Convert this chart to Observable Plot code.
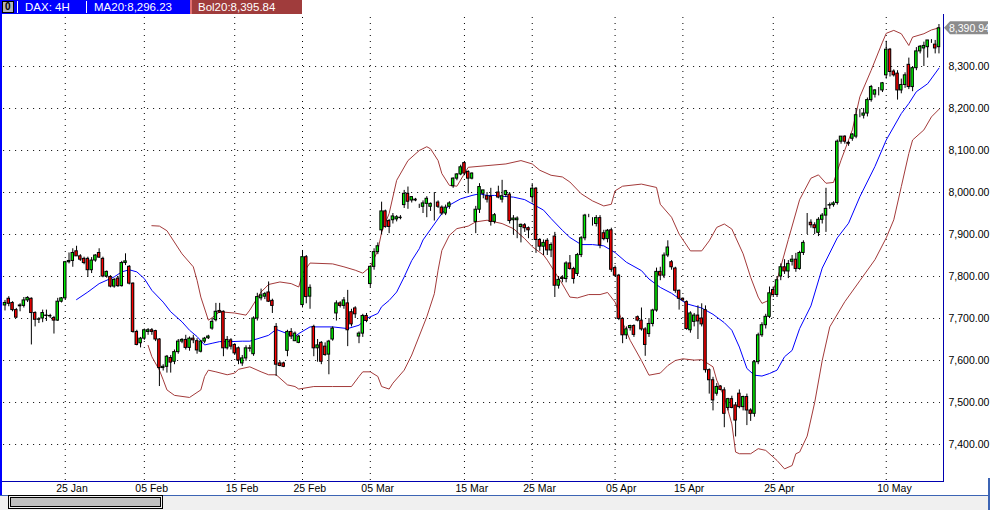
<!DOCTYPE html>
<html><head><meta charset="utf-8">
<script src="https://cdn.jsdelivr.net/npm/d3@7"></script>
<script src="https://cdn.jsdelivr.net/npm/@observablehq/plot@0.6"></script>
<style>
body{margin:0;background:#fff;}
#wrap{position:relative;width:990px;height:510px;overflow:hidden;font-family:"Liberation Sans",Arial,sans-serif;background:#fff;}
.abs{position:absolute;}
.hdr{position:absolute;top:0;height:14px;color:#fff;font-size:11.5px;line-height:14px;white-space:nowrap;}
</style></head><body><div id="wrap"></div>
<script>
// ---- data: 4H candles (index 0..248) ----
const opens=[7731,7747,7737,7720,7729,7730,7743,7747,7713,7697,7700,7707,7706,7701,7695,7740,7748,7834,7837,7860,7848,7842,7842,7815,7838,7856,7842,7800,7799,7776,7795,7777,7832,7823,7783,7668,7641,7652,7668,7672,7670,7650,7582,7585,7606,7597,7620,7645,7649,7630,7652,7646,7621,7645,7653,7676,7696,7718,7716,7629,7648,7637,7629,7593,7605,7629,7615,7700,7748,7752,7762,7742,7680,7593,7593,7623,7668,7646,7642,7732,7846,7752,7680,7629,7642,7633,7614,7650,7712,7736,7730,7736,7715,7724,7657,7664,7706,7782,7823,7858,7910,7955,7932,7934,7936,7939,7970,7997,7981,7983,7968,7966,7973,7966,7976,7976,7964,7950,7966,8015,8033,8043,8070,8049,8033,7930,7959,7997,7991,7990,7930,8000,7983,7994,7995,7934,7934,7918,7922,7915,7989,8009,7887,7871,7885,7862,7895,7778,7797,7794,7831,7818,7806,7851,7891,7945,7925,7925,7939,7903,7889,7910,7820,7802,7699,7660,7677,7682,7703,7695,7674,7663,7687,7719,7811,7802,7850,7834,7819,7766,7747,7739,7672,7692,7707,7700,7720,7577,7553,7521,7538,7529,7487,7508,7493,7521,7489,7513,7481,7473,7596,7660,7684,7704,7768,7756,7800,7822,7812,7835,7840,7818,7856,7930,7928,7922,7904,7935,7945,7969,7970,7975,8121,8133,8118,8128,8133,8186,8183,8188,8220,8233,8243,8243,8279,8340,8288,8283,8243,8256,8304,8251,8296,8336,8343,8346,8362,8352,8346];
const highs=[7743,7752,7740,7724,7735,7750,7752,7749,7716,7702,7720,7720,7710,7705,7748,7750,7836,7856,7866,7872,7852,7846,7846,7845,7852,7866,7846,7813,7802,7795,7800,7836,7854,7826,7785,7672,7655,7675,7676,7676,7672,7652,7590,7612,7612,7625,7650,7652,7660,7656,7660,7652,7648,7655,7660,7700,7736,7736,7718,7657,7652,7640,7632,7612,7635,7636,7704,7760,7770,7762,7787,7746,7688,7598,7596,7672,7676,7668,7660,7862,7850,7780,7684,7650,7645,7642,7648,7680,7742,7740,7750,7767,7722,7728,7668,7710,7712,7825,7866,7880,7977,7958,7936,7950,7945,7945,8005,8013,7990,7986,7972,7980,7990,7975,8000,7980,7968,7970,7978,8035,8045,8065,8072,8052,8047,7967,8021,8005,8000,8010,7950,8015,8029,8005,8000,7945,7942,7925,7926,7918,8021,8012,7890,7887,7890,7880,7905,7800,7802,7835,7850,7822,7855,7895,7948,7948,7940,7945,7945,7910,7912,7915,7825,7805,7702,7680,7684,7685,7706,7725,7678,7700,7722,7820,7822,7856,7885,7838,7822,7768,7749,7742,7716,7712,7730,7735,7730,7580,7560,7545,7540,7535,7510,7515,7500,7530,7515,7520,7485,7600,7665,7690,7710,7775,7775,7800,7830,7840,7838,7850,7855,7860,7885,7950,7935,7928,7940,7950,8010,7975,7978,8125,8133,8135,8122,8140,8200,8198,8200,8225,8255,8245,8250,8262,8360,8343,8292,8290,8270,8285,8320,8300,8345,8350,8358,8362,8364,8362,8400];
const lows=[7718,7728,7716,7700,7716,7725,7738,7637,7680,7688,7690,7693,7700,7663,7693,7737,7745,7830,7822,7850,7836,7828,7798,7807,7834,7843,7797,7796,7773,7772,7774,7775,7826,7780,7665,7635,7630,7648,7660,7660,7645,7538,7575,7570,7570,7590,7615,7640,7625,7622,7640,7615,7618,7640,7650,7672,7692,7712,7609,7625,7625,7612,7590,7586,7598,7620,7610,7694,7742,7745,7738,7712,7562,7585,7583,7609,7650,7645,7640,7725,7735,7722,7609,7596,7590,7610,7566,7646,7694,7725,7722,7633,7680,7700,7640,7655,7690,7774,7815,7852,7900,7915,7902,7925,7930,7935,7962,7960,7975,7978,7962,7950,7940,7955,7932,7962,7945,7945,7960,8010,8028,8040,8040,7997,8030,7902,7950,7985,7975,7920,7925,7985,7975,7988,7925,7900,7890,7880,7905,7890,7975,7855,7860,7850,7850,7845,7750,7770,7785,7785,7815,7782,7800,7845,7885,7940,7920,7918,7866,7885,7880,7810,7798,7695,7640,7650,7670,7655,7692,7670,7610,7655,7680,7715,7790,7795,7845,7815,7760,7720,7740,7672,7665,7680,7650,7680,7570,7520,7480,7515,7528,7440,7480,7485,7418,7485,7480,7445,7455,7465,7590,7655,7675,7700,7750,7750,7790,7805,7795,7825,7810,7815,7850,7900,7915,7900,7895,7925,7905,7960,7965,7970,8115,8115,8110,8122,8128,8178,8175,8180,8215,8225,8230,8238,8270,8275,8275,8220,8235,8248,8245,8240,8290,8330,8300,8320,8355,8330,8330];
const closes=[7737,7735,7720,7702,7731,7743,7749,7713,7697,7698,7713,7706,7705,7695,7740,7748,7834,7837,7856,7848,7840,7832,7815,7838,7850,7845,7800,7811,7776,7792,7777,7832,7836,7783,7668,7637,7652,7672,7672,7668,7650,7582,7585,7609,7595,7620,7645,7649,7630,7652,7648,7624,7645,7652,7657,7692,7716,7714,7629,7649,7633,7617,7600,7605,7629,7628,7700,7751,7755,7758,7740,7730,7590,7587,7585,7668,7657,7664,7657,7846,7751,7773,7629,7636,7597,7613,7645,7676,7736,7730,7743,7672,7686,7710,7664,7706,7694,7823,7858,7872,7955,7918,7918,7943,7941,7940,7997,7978,7989,7981,7968,7974,7985,7973,7976,7966,7950,7964,7974,8033,8043,8060,8045,8033,8045,7959,8013,8005,7983,7930,7946,7988,7991,8003,7932,7938,7938,7923,7915,7910,8009,7887,7871,7880,7862,7875,7778,7792,7794,7831,7818,7794,7851,7891,7945,7945,7925,7939,7874,7889,7909,7816,7802,7699,7660,7674,7682,7661,7695,7674,7637,7687,7719,7811,7802,7850,7869,7822,7766,7747,7743,7675,7712,7707,7693,7686,7577,7553,7505,7537,7530,7473,7508,7487,7457,7489,7513,7481,7473,7596,7660,7684,7704,7760,7756,7791,7822,7812,7830,7840,7818,7856,7880,7930,7922,7915,7935,7945,7961,7970,7974,8121,8133,8121,8116,8138,8184,8186,8188,8220,8251,8243,8243,8260,8340,8287,8279,8243,8256,8279,8251,8296,8336,8347,8349,8362,8362,8343,8390.94];

// date ticks (candle index) and labels
const tickIdx=[16,37,61,79,97,122,140,162,180,204,234];
const tickLabels=["25 Jan","05 Feb","15 Feb","25 Feb","05 Mar","15 Mar","25 Mar","05 Apr","15 Apr","25 Apr","10 May"];
const yTicks=[7400,7500,7600,7700,7800,7900,8000,8100,8200,8300];

// MA20 line (candle index, value)
const maIdx=[19,22,25,29,31,33,35,37,39,42,44,47,49,51,53,55,57,60,63,65,70,72,77,78,81,87,91,94,96,99,100,102,104,106,108,110,111,116,118,121,124,126,128,130,132,135,138,140,143,145,148,150,153,156,159,162,165,169,171,174,177,181,183,185,188,191,193,195,197,199,201,203,205,207,209,211,214,217,221,224,227,231,234,238,240,242,245,248];
const maVal=[7745,7763,7783,7799,7811,7816,7811,7795,7767,7739,7716,7692,7672,7657,7637,7641,7645,7645,7646,7646,7660,7674,7657,7664,7680,7680,7676,7684,7700,7712,7728,7743,7763,7799,7838,7866,7887,7950,7970,7985,7993,7997,7993,7993,7991,7989,7983,7973,7958,7938,7910,7893,7876,7876,7873,7857,7834,7814,7794,7774,7760,7735,7730,7725,7710,7690,7672,7632,7581,7565,7563,7569,7577,7609,7624,7676,7730,7820,7892,7927,7990,8062,8125,8188,8212,8240,8259,8296];

// Bollinger upper band
const upIdx=[39,41,43,47,50,51,52,54,55,57,61,64,65,68,70,73,76,78,79,81,87,90,93,95,97,99,100,102,104,107,110,112,113,115,116,118,120,123,128,133,137,140,142,145,148,150,153,156,159,161,162,164,169,173,174,177,179,182,185,187,189,191,193,196,198,200,201,203,204,205,208,211,214,216,218,220,222,225,227,230,233,234,236,238,240,241,244,246,248];
const upVal=[7921,7920,7909,7854,7823,7791,7751,7696,7702,7716,7713,7708,7720,7763,7781,7787,7783,7775,7807,7832,7830,7823,7815,7808,7823,7862,7905,7950,8029,8076,8100,8109,8104,8076,8045,8017,8015,8060,8064,8068,8076,8068,8053,8041,8037,8025,7997,7980,7968,7972,8004,8015,8020,8012,7972,7941,7901,7861,7861,7885,7917,7925,7913,7854,7798,7751,7736,7744,7768,7791,7888,7983,8034,8042,8022,8024,8077,8149,8228,8291,8358,8379,8386,8378,8350,8370,8378,8387,8392];

// Bollinger lower band
const loIdx=[38,39,41,42,43,45,49,52,53,54,56,59,61,62,65,68,70,72,75,77,78,82,87,92,94,95,97,99,100,102,103,106,108,112,114,115,116,118,120,123,125,128,132,135,138,140,143,144,148,150,152,155,158,160,162,164,166,169,171,174,176,178,180,183,185,188,189,191,193,194,195,198,200,202,205,207,209,210,211,213,215,217,219,223,227,231,234,236,238,240,241,244,246,248];
const loVal=[7636,7609,7577,7554,7530,7517,7512,7530,7562,7577,7573,7566,7570,7579,7585,7573,7566,7566,7542,7538,7532,7538,7538,7538,7562,7573,7573,7562,7538,7532,7546,7577,7613,7704,7759,7815,7862,7898,7914,7920,7930,7934,7926,7914,7890,7871,7851,7839,7782,7751,7749,7757,7757,7762,7739,7691,7648,7600,7565,7570,7588,7600,7604,7601,7602,7585,7553,7513,7449,7382,7378,7378,7390,7386,7362,7342,7350,7378,7382,7420,7500,7600,7680,7740,7790,7840,7892,7935,8014,8093,8125,8149,8180,8198];

// ---- build ----
const candles=opens.map((o,i)=>({i,o,h:highs[i],l:lows[i],c:closes[i],up:closes[i]>=o}));
const pts=(ix,vv)=>ix.map((d,k)=>({i:d,v:vv[k]}));
const STEP=3.766, X0=4.5;
const xDom=[(2-X0)/STEP,(943-X0)/STEP];
const FONT='"Liberation Sans",Arial,sans-serif';
const chart=Plot.plot({
  width:990,height:510,marginLeft:2,marginRight:47,marginTop:17,marginBottom:29,
  x:{domain:xDom,axis:null},
  y:{domain:[7400-(481-444)/0.42,7400+(444-17)/0.42],axis:null},
  style:{background:"transparent",fontFamily:FONT,fontSize:"10.5px",color:"#000",overflow:"visible"},
  marks:[
    Plot.ruleY(yTicks,{x1:xDom[0]+0.3,x2:xDom[1]-0.8,stroke:"#000",strokeDasharray:"1,5",strokeOpacity:1}),
    Plot.ruleX(tickIdx,{stroke:"#000",strokeDasharray:"1,5",strokeOpacity:1}),
    Plot.line(pts(upIdx,upVal),{x:"i",y:"v",stroke:"#a33a3a",strokeWidth:1}),
    Plot.line(pts(loIdx,loVal),{x:"i",y:"v",stroke:"#a33a3a",strokeWidth:1}),
    Plot.line(pts(maIdx,maVal),{x:"i",y:"v",stroke:"#0000ff",strokeWidth:1}),
    Plot.ruleX(candles,{x:"i",y1:"l",y2:"h",stroke:"#000",strokeWidth:1}),
    Plot.rect(candles,{x1:d=>d.i-0.33,x2:d=>d.i+0.33,y1:"o",y2:"c",fill:d=>d.up?"#00f000":"#ff0000",stroke:"#000",strokeWidth:1}),
    Plot.axisY(yTicks,{anchor:"right",tickSize:0,tickPadding:5,tickFormat:d3.format(",.2f"),fontSize:10.5,fill:"#000"}),
    Plot.text(tickIdx,{x:d=>d,frameAnchor:"bottom",lineAnchor:"middle",dy:7,dx:-9,textAnchor:"start",text:(d,k)=>tickLabels[k],fill:"#000",fontSize:10.5})
  ]
});
const wrap=document.getElementById("wrap");
wrap.appendChild(chart);
chart.style.position="absolute";chart.style.left="0";chart.style.top="0";

// last price marker through the y scale
const ys=chart.scale("y");
const lastV=closes[closes.length-1];
const yc=ys.apply(lastV);
const svg=d3.select(chart);
svg.append("path").attr("d",`M944,${yc}L950,${yc-6.5}L988,${yc-6.5}L988,${yc+6.5}L950,${yc+6.5}Z`).attr("fill","#8c8c8c");
svg.append("text").attr("x",949).attr("y",yc).attr("dy","0.36em").attr("fill","#fff").attr("text-anchor","start")
  .style("font",`10.5px ${FONT}`).text(d3.format(",.2f")(lastV));

// frame / window decorations
function box(l,t,w,h,bg,extra){const d=document.createElement("div");d.className="abs";
  d.style.cssText+=`left:${l}px;top:${t}px;width:${w}px;height:${h}px;background:${bg};`+(extra||"");wrap.appendChild(d);return d;}
box(0,481,943,1,"#0000b0");
box(943,14,1,468,"#0000b0");
box(0,0,2,496,"#0000ff");
box(0,495,990,1,"#3c64b4");
box(0,496,990,14,"#f0f0f0");
box(988,478,2,32,"#3c64b4");
box(10,497,151,10,"#c0c0c0","box-sizing:border-box;border:1px solid #000;outline:1px solid #000;outline-offset:1px;");
// header
box(0,0,190,14,"#0000ff");
box(190,0,112,14,"#a03c3c","box-sizing:border-box;border-left:2px solid #e07070;");
box(2,1,12,12,"#b4b4b4","box-sizing:border-box;border:1px solid #000;");
box(17,1,1,12,"#fff");box(86,1,1,12,"#fff");
function txt(l,s){const d=document.createElement("div");d.className="hdr";d.style.left=l+"px";d.textContent=s;wrap.appendChild(d);}
txt(5,"0");wrap.lastChild.style.color="#000";wrap.lastChild.style.fontWeight="bold";wrap.lastChild.style.fontSize="10px";
txt(25,"DAX: 4H");txt(94,"MA20:8,296.23");txt(198,"Bol20:8,395.84");
</script></body></html>
